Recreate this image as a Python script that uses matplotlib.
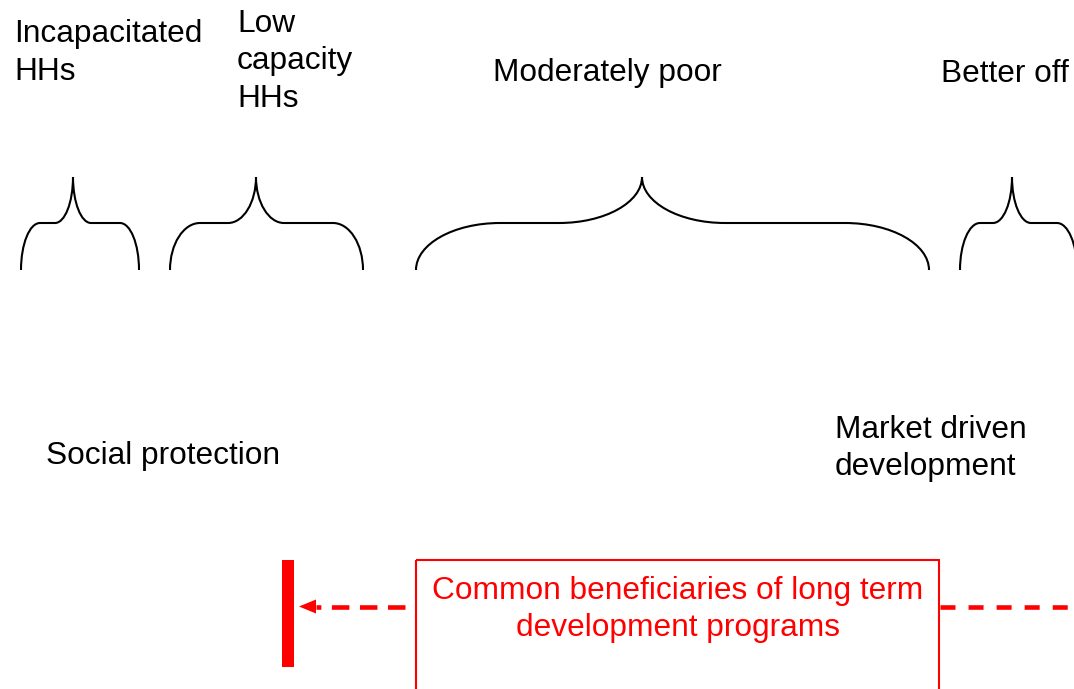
import matplotlib.pyplot as plt
from matplotlib.path import Path
from matplotlib.patches import PathPatch, Rectangle, Polygon

plt.rcParams["font.family"] = ["Liberation Sans", "DejaVu Sans"]
plt.rcParams["lines.scale_dashes"] = False

WIDTH, HEIGHT = 1074, 689

# household groups shown above the braces
GROUP_LABELS = [
    ["Incapacitated", "HHs"],
    ["Low", "capacity", "HHs"],
    ["Moderately poor"],
    ["Better off"],
]
APPROACH_LABELS = [["Social protection"], ["Market driven", "development"]]
PROGRAM_LABEL = ["Common beneficiaries of long term", "development programs"]

# layout (pixel coords, y downwards): x, first baseline, line step
GROUP_TEXT_POS = [(14, 42, 38), (237, 32, 37.5), (493, 81.5, 0), (941, 81.5, 0)]
APPROACH_TEXT_POS = [(46, 464, 0), (835, 438.5, 36.5)]
# left, right, tip, corner radius, tip radius
BRACES = [
    (21, 139, 73, 19, 18),
    (170, 363, 256, 30, 28),
    (416, 929, 642, 84, 83),
    (960, 1077, 1012, 20, 19),
]
BRACE_BOTTOM, BRACE_SHOULDER, BRACE_TOP = 270, 223, 177

FONT_SIZE = 22.8
RED = "#ff0000"


def brace_path(xl, xr, xt, rc, rt):
    k = 0.552
    yb, ys, yt = BRACE_BOTTOM, BRACE_SHOULDER, BRACE_TOP
    verts = [
        (xl, yb),
        (xl, yb - k * (yb - ys)), (xl + rc * (1 - k), ys), (xl + rc, ys),
        (xt - rt, ys),
        (xt - rt * (1 - k), ys), (xt, yt + k * (ys - yt)), (xt, yt),
        (xt, yt + k * (ys - yt)), (xt + rt * (1 - k), ys), (xt + rt, ys),
        (xr - rc, ys),
        (xr - rc * (1 - k), ys), (xr, yb - k * (yb - ys)), (xr, yb),
    ]
    codes = [Path.MOVETO,
             Path.CURVE4, Path.CURVE4, Path.CURVE4,
             Path.LINETO,
             Path.CURVE4, Path.CURVE4, Path.CURVE4,
             Path.CURVE4, Path.CURVE4, Path.CURVE4,
             Path.LINETO,
             Path.CURVE4, Path.CURVE4, Path.CURVE4]
    return Path(verts, codes)


def put_lines(ax, lines, x, y0, step, **kw):
    for i, line in enumerate(lines):
        ax.text(x, y0 + i * step, line, fontsize=FONT_SIZE,
                va="baseline", **kw)


def main() -> None:
    fig = plt.figure(figsize=(WIDTH / 100, HEIGHT / 100), dpi=100)
    ax = fig.add_axes([0, 0, 1, 1])
    ax.set_xlim(0, WIDTH)
    ax.set_ylim(HEIGHT, 0)
    ax.axis("off")

    for lines, (x, y, step) in zip(GROUP_LABELS, GROUP_TEXT_POS):
        put_lines(ax, lines, x, y, step, ha="left", color="black")

    for spec in BRACES:
        ax.add_patch(PathPatch(brace_path(*spec), fill=False, lw=1.5,
                               edgecolor="black", capstyle="butt"))

    for lines, (x, y, step) in zip(APPROACH_LABELS, APPROACH_TEXT_POS):
        put_lines(ax, lines, x, y, step, ha="left", color="black")

    # program box (runs off the bottom edge)
    box_l, box_r, box_t = 416, 939, 560
    ax.add_patch(Rectangle((box_l, box_t), box_r - box_l, 200, fill=False,
                           edgecolor=RED, lw=1.5))
    put_lines(ax, PROGRAM_LABEL, (box_l + box_r) / 2, 599, 37, ha="center",
              color=RED)

    # social protection boundary bar
    ax.add_patch(Rectangle((282, 560), 12, 107, color=RED, lw=0))

    # dashed arrows
    y_arrow = 606.5
    ax.plot([405, 316], [y_arrow, y_arrow], color=RED, lw=3.3,
            linestyle=(0, (12.6, 7.6)), solid_capstyle="butt")
    ax.add_patch(Polygon([(299, y_arrow), (316, y_arrow - 7),
                          (316, y_arrow + 7)], closed=True, color=RED, lw=0))
    ax.plot([940, WIDTH], [y_arrow, y_arrow], color=RED, lw=3.3,
            linestyle=(0, (10.8, 9.4)), solid_capstyle="butt")

    fig.savefig("out.png", dpi=100)


if __name__ == "__main__":
    main()
